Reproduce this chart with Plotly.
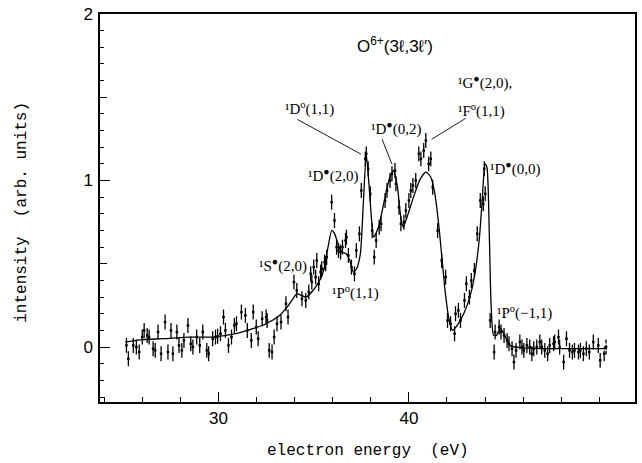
import plotly.graph_objects as go

# measured spectrum (eV, arb. units)
energy = [25.16, 25.26, 25.52, 25.68, 25.83, 25.99, 26.09, 26.25, 26.35, 26.56, 26.67, 26.82, 26.98,
          27.19, 27.34, 27.50, 27.60, 27.81, 27.92, 28.07, 28.18, 28.39, 28.54, 28.65, 28.85, 29.01,
          29.17, 29.38, 29.48, 29.69, 29.84, 29.95, 30.10, 30.26, 30.36, 30.52, 30.68, 30.83, 30.94,
          31.20, 31.41, 31.51, 31.72, 31.82, 31.98, 32.08, 32.29, 32.50, 32.55, 32.66, 32.81, 32.92,
          33.07, 33.28, 33.54, 33.65, 33.96, 34.11, 34.38, 34.58, 34.74, 34.84, 34.90, 35.00, 35.10,
          35.16, 35.26, 35.36, 35.42, 35.57, 35.63, 35.68, 35.94, 36.09, 36.20, 36.30, 36.41, 36.51,
          36.67, 36.72, 36.82, 36.98, 37.14, 37.24, 37.40, 37.50, 37.71, 37.76, 37.86, 37.97, 38.07,
          38.18, 38.28, 38.44, 38.54, 38.75, 38.85, 39.01, 39.11, 39.27, 39.32, 39.48, 39.58, 39.74,
          39.84, 40.00, 40.10, 40.21, 40.36, 40.52, 40.63, 40.78, 40.89, 41.04, 41.15, 41.25, 41.51,
          41.72, 41.93, 42.03, 42.19, 42.40, 42.45, 42.60, 42.71, 42.92, 43.02, 43.18, 43.28, 43.44,
          43.59, 43.75, 43.91, 43.96, 44.01, 44.27, 44.48, 44.53, 44.74, 44.84, 45.00, 45.16, 45.26,
          45.42, 45.52, 45.63, 45.83, 45.94, 46.04, 46.20, 46.35, 46.46, 46.56, 46.72, 46.88, 46.98,
          47.14, 47.29, 47.40, 47.60, 47.66, 47.86, 47.92, 48.13, 48.28, 48.44, 48.59, 48.70, 48.91,
          49.01, 49.17, 49.32, 49.48, 49.69, 49.95, 50.05, 50.26, 50.36]
intensity = [0.01, -0.07, 0.01, 0.00, -0.03, 0.06, 0.10, 0.07, 0.06, -0.01, -0.02, 0.09, -0.04,
             0.15, -0.03, 0.10, -0.04, 0.09, 0.01, -0.02, 0.04, 0.13, 0.02, 0.00, 0.06, 0.01,
             0.09, -0.02, -0.04, 0.05, 0.06, 0.065, 0.08, 0.18, 0.10, 0.01, 0.06, 0.13, 0.14,
             0.21, 0.19, 0.10, 0.04, 0.21, 0.12, 0.05, 0.17, 0.18, 0.16, -0.02, -0.03, 0.06,
             0.14, 0.15, 0.26, 0.18, 0.39, 0.34, 0.29, 0.28, 0.33, 0.44, 0.39, 0.48, 0.42,
             0.52, 0.38, 0.45, 0.47, 0.51, 0.50, 0.54, 0.87, 0.76, 0.60, 0.58, 0.57, 0.60,
             0.64, 0.66, 0.55, 0.48, 0.44, 0.58, 0.68, 0.94, 1.13, 1.16, 1.07, 0.92, 0.70,
             0.54, 0.64, 0.72, 0.74, 0.88, 0.94, 1.00, 1.04, 1.06, 0.98, 0.84, 0.74, 0.75,
             0.82, 0.88, 0.94, 0.97, 1.00, 1.16, 1.13, 1.18, 1.24, 1.10, 1.13, 0.96, 0.70,
             0.52, 0.42, 0.16, 0.14, 0.08, 0.20, 0.22, 0.16, 0.28, 0.38, 0.30, 0.40, 0.46,
             0.68, 0.88, 0.86, 1.07, 0.92, 0.16, -0.03, 0.09, 0.12, 0.09, 0.07, 0.04, 0.02,
             -0.01, -0.09, -0.02, 0.03, 0.00, -0.02, 0.01, 0.00, -0.04, -0.01, 0.00, 0.03, 0.00,
             -0.02, -0.04, 0.01, 0.02, 0.03, 0.06, 0.00, -0.09, 0.05, -0.02, -0.03, -0.02, -0.03,
             -0.02, -0.04, -0.01, -0.03, 0.03, 0.01, -0.08, -0.04, 0.00]
error = 0.045

# fitted curve
fit_energy = [25.1, 26.0, 27.1, 28.5, 29.7, 30.9, 31.8, 32.5, 33.2, 33.6, 33.85, 34.1, 34.35, 34.6,
              35.1, 35.4, 35.6, 35.75, 35.95, 36.1, 36.3, 36.5, 36.7, 36.9, 37.08, 37.25, 37.45,
              37.6, 37.76, 37.9, 38.05, 38.15, 38.4, 38.75, 39.0, 39.2, 39.4, 39.55, 39.7, 39.9,
              40.3, 40.6, 40.9, 41.15, 41.35, 41.6, 41.88, 42.1, 42.3, 42.6, 42.92, 43.2, 43.44,
              43.7, 43.85, 44.0, 44.1, 44.22, 44.32, 44.45, 44.6, 44.8, 45.0, 45.3, 46.0, 50.4]
fit_intensity = [0.03, 0.045, 0.05, 0.06, 0.06, 0.08, 0.11, 0.14, 0.19, 0.24, 0.28, 0.32, 0.31, 0.30,
                 0.36, 0.42, 0.50, 0.60, 0.70, 0.68, 0.61, 0.57, 0.56, 0.52, 0.45, 0.47, 0.56,
                 0.85, 1.16, 0.98, 0.75, 0.66, 0.72, 0.90, 1.02, 1.06, 0.96, 0.80, 0.72, 0.78,
                 0.92, 1.01, 1.05, 1.02, 0.93, 0.70, 0.36, 0.17, 0.10, 0.14, 0.21, 0.30, 0.42,
                 0.65, 0.88, 1.10, 1.08, 0.70, 0.25, 0.07, 0.07, 0.11, 0.08, 0.01, -0.005, -0.01]

# state labels: (text, x, y, anchor)
labels = [
    ("¹D<sup>o</sup>(1,1)", 34.76, 1.43, "center"),
    ("¹D<sup>●</sup>(0,2)", 39.32, 1.31, "center"),
    ("¹G<sup>●</sup>(2,0),", 42.46, 1.59, "left"),
    ("¹F<sup>o</sup>(1,1)", 42.46, 1.42, "left"),
    ("¹D<sup>●</sup>(2,0)", 36.02, 1.03, "center"),
    ("¹S<sup>●</sup>(2,0)", 33.40, 0.49, "center"),
    ("¹P<sup>o</sup>(1,1)", 37.17, 0.33, "center"),
    ("¹D<sup>●</sup>(0,0)", 44.15, 1.07, "left"),
    ("¹P<sup>o</sup>(−1,1)", 44.55, 0.21, "left"),
]
# leader lines: (x0, y0, x1, y1)
leaders = [
    (34.14, 1.367, 37.49, 1.158),
    (38.59, 1.248, 39.11, 1.098),
    (42.98, 1.373, 41.20, 1.248),
]

fig = go.Figure()
fig.add_trace(go.Scatter(
    x=energy, y=intensity, mode="markers",
    marker=dict(color="black", size=2.5, symbol="square"),
    error_y=dict(type="constant", value=error, color="black", thickness=1.3, width=0),
    showlegend=False, hoverinfo="skip"))
fig.add_trace(go.Scatter(
    x=energy[-1:], y=intensity[-1:], mode="markers",
    marker=dict(color="white", size=6, symbol="square-open", line=dict(color="black", width=1.2)),
    showlegend=False, hoverinfo="skip"))
fig.add_trace(go.Scatter(
    x=fit_energy, y=fit_intensity, mode="lines",
    line=dict(color="black", width=1.3, shape="spline", smoothing=0.6),
    showlegend=False, hoverinfo="skip"))
# medium ticks at half units on y axis
fig.add_trace(go.Scatter(x=[None], y=[None], yaxis="y2", showlegend=False))

for x0, y0, x1, y1 in leaders:
    fig.add_shape(type="line", x0=x0, y0=y0, x1=x1, y1=y1,
                  line=dict(color="black", width=0.9))

for text, x, y, anchor in labels:
    fig.add_annotation(x=x, y=y, text=text, showarrow=False, xanchor=anchor, yanchor="middle",
                       font=dict(family="Liberation Serif", size=15, color="black"))

fig.add_annotation(x=39.27, y=1.815, text="O<sup>6+</sup>(3ℓ,3ℓ′)", showarrow=False,
                   font=dict(family="Liberation Sans", size=17, color="black"))

fig.add_annotation(xref="paper", yref="paper", x=0.5, y=-0.125, text="electron energy  (eV)",
                   showarrow=False, yanchor="middle",
                   font=dict(family="Liberation Mono", size=16, color="black"))
fig.add_annotation(xref="paper", yref="paper", x=-0.146, y=0.49, text="intensity  (arb. units)",
                   textangle=-90, showarrow=False, xanchor="center",
                   font=dict(family="Liberation Mono", size=16, color="black"))

fig.update_layout(
    width=642, height=463,
    margin=dict(l=100, r=5, t=12, b=61),
    paper_bgcolor="white", plot_bgcolor="white",
    xaxis=dict(range=[23.77, 51.88], tickvals=[30, 40], ticktext=["30", "40"],
               ticks="inside", ticklen=10, tickwidth=1.2, tickcolor="black",
               minor=dict(dtick=2, tick0=0, ticks="inside", ticklen=5, tickwidth=1, tickcolor="black"),
               showline=True, linecolor="black", linewidth=1.5, mirror=True,
               showgrid=False, zeroline=False,
               tickfont=dict(family="Liberation Sans", size=17, color="black")),
    yaxis=dict(range=[-0.33, 2.0], tickvals=[0, 1, 2], ticktext=["0", "1", "2"],
               ticks="inside", ticklen=10, tickwidth=1.2, tickcolor="black",
               minor=dict(dtick=0.1, tick0=0, ticks="inside", ticklen=4, tickwidth=1, tickcolor="black"),
               showline=True, linecolor="black", linewidth=1.5, mirror=True,
               showgrid=False, zeroline=False, ticklabelstandoff=2,
               tickfont=dict(family="Liberation Sans", size=17, color="black")),
    yaxis2=dict(range=[-0.33, 2.0], overlaying="y", side="left", tickvals=[-0.5, 0.5, 1.5],
                showticklabels=False, ticks="inside", ticklen=7, tickwidth=1, tickcolor="black",
                showgrid=False, zeroline=False, showline=False),
)

fig.write_html("out.html")
